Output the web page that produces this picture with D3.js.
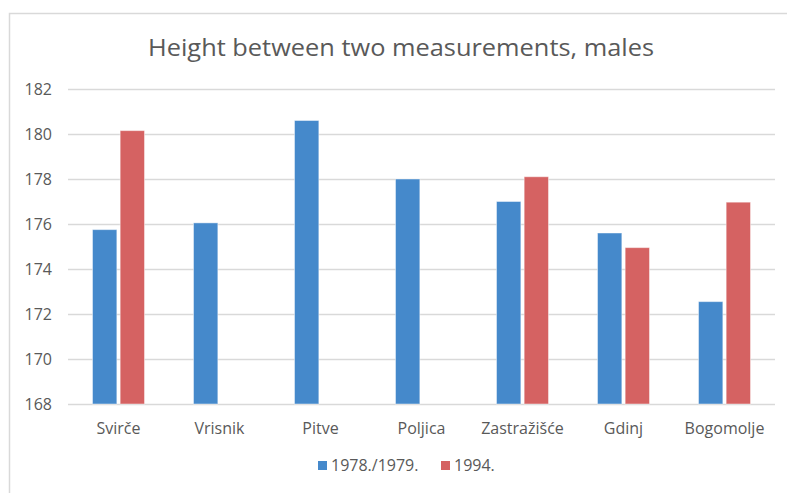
<!DOCTYPE html>
<html>
<head>
<meta charset="utf-8">
<script src="https://cdn.jsdelivr.net/npm/d3@7"></script>
<style>
  body { margin: 0; background: #fff; }
  svg { display: block; font-family: "Open Sans", "Noto Sans", sans-serif; }
</style>
</head>
<body>
<div id="chart"></div>
<script>
// Data
const places = ['Svirče', 'Vrisnik', 'Pitve', 'Poljica', 'Zastražišće', 'Gdinj', 'Bogomolje'];
const seriesNames = ['1978./1979.', '1994.'];
const values1978 = [175.75, 176.05, 180.6, 178.0, 177.0, 175.6, 172.55];
const values1994 = [180.15, null, null, null, 178.1, 174.95, 176.97];
const yTicks = [168, 170, 172, 174, 176, 178, 180, 182];

const colors = ['#4589CB', '#D56262'];
const width = 787, height = 493;
const margin = { top: 89, right: 12, bottom: 89, left: 68 };

const svg = d3.select('#chart')
  .append('svg')
  .attr('width', width)
  .attr('height', height);

// Chart frame (cut off at right and bottom like the screenshot)
svg.append('rect')
  .attr('x', 9.5)
  .attr('y', 13.5)
  .attr('width', width + 20)
  .attr('height', height + 20)
  .attr('fill', '#fff')
  .attr('stroke', '#D9D9D9')
  .attr('stroke-width', 1.5);

const x0 = d3.scaleBand()
  .domain(places)
  .range([margin.left, width - margin.right]);

const x1 = d3.scaleBand()
  .domain(seriesNames)
  .range([0, 52])
  .paddingInner(0.12);

const y = d3.scaleLinear()
  .domain([168, 182])
  .range([height - margin.bottom, margin.top]);

// Gridlines
svg.append('g')
  .selectAll('line')
  .data(yTicks)
  .join('line')
  .attr('x1', margin.left)
  .attr('x2', width - margin.right)
  .attr('y1', d => Math.round(y(d)) + 0.5)
  .attr('y2', d => Math.round(y(d)) + 0.5)
  .attr('stroke', '#D9D9D9')
  .attr('stroke-width', 1.5);

// Y tick labels
svg.append('g')
  .selectAll('text')
  .data(yTicks)
  .join('text')
  .attr('x', 52)
  .attr('y', d => y(d))
  .attr('dy', '0.35em')
  .attr('text-anchor', 'end')
  .attr('fill', '#595959')
  .style('font-size', '16px')
  .text(d => d);

// Bars
const rows = places.map((p, i) => ({ place: p, vals: [values1978[i], values1994[i]] }));

const groups = svg.append('g')
  .selectAll('g')
  .data(rows)
  .join('g')
  .attr('transform', d => `translate(${x0(d.place) + x0.bandwidth() / 2 - 26},0)`);

groups.selectAll('rect')
  .data(d => d.vals.map((v, k) => ({ name: seriesNames[k], value: v, k })).filter(e => e.value != null))
  .join('rect')
  .attr('x', d => x1(d.name))
  .attr('y', d => y(d.value))
  .attr('width', x1.bandwidth())
  .attr('height', d => y(168) - y(d.value))
  .attr('fill', d => colors[d.k])
  .attr('stroke', 'rgba(255,255,255,0.45)')
  .attr('stroke-width', 1);

// X labels
svg.append('g')
  .selectAll('text')
  .data(places)
  .join('text')
  .attr('x', d => x0(d) + x0.bandwidth() / 2)
  .attr('y', 434)
  .attr('text-anchor', 'middle')
  .attr('fill', '#595959')
  .style('font-size', '16px')
  .text(d => d);

// Title
svg.append('text')
  .attr('x', 401)
  .attr('y', 56)
  .attr('text-anchor', 'middle')
  .attr('fill', '#595959')
  .attr('textLength', 506)
  .attr('lengthAdjust', 'spacingAndGlyphs')
  .style('font-size', '24px')
  .text('Height between two measurements, males');

// Legend
const legendItems = [
  { name: seriesNames[0], color: colors[0], x: 318 },
  { name: seriesNames[1], color: colors[1], x: 441 }
];
const legend = svg.append('g')
  .selectAll('g')
  .data(legendItems)
  .join('g')
  .attr('transform', d => `translate(${d.x},0)`);

legend.append('rect')
  .attr('x', 0)
  .attr('y', 461)
  .attr('width', 9)
  .attr('height', 9)
  .attr('fill', d => d.color);

legend.append('text')
  .attr('x', 13)
  .attr('y', 471)
  .attr('fill', '#595959')
  .style('font-size', '16px')
  .text(d => d.name);
</script>
</body>
</html>
